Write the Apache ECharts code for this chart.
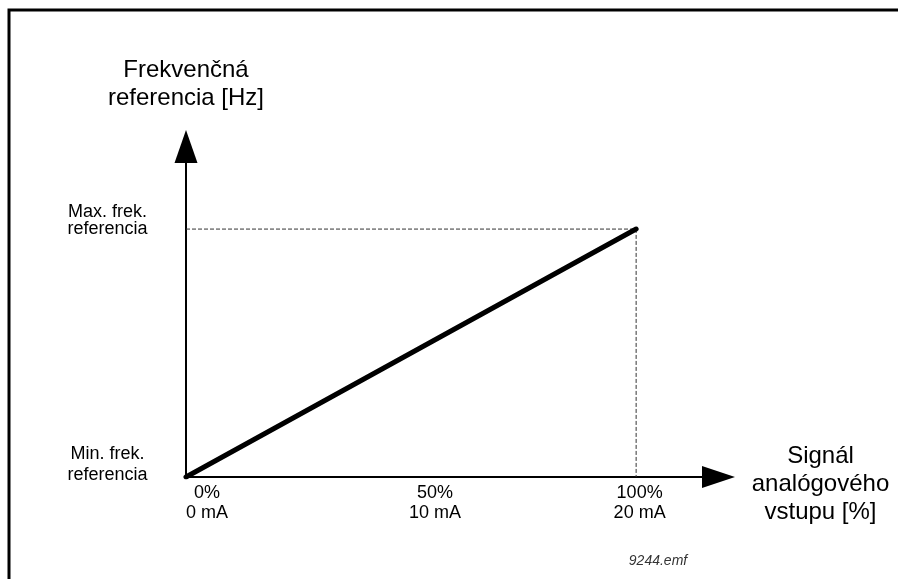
<!DOCTYPE html>
<html>
<head>
<meta charset="utf-8">
<script src="https://cdn.jsdelivr.net/npm/echarts@6/dist/echarts.min.js"></script>
<style>
  html, body { margin: 0; padding: 0; background: #fff; }
  #chart { width: 898px; height: 579px; }
</style>
</head>
<body>
<div id="chart"></div>
<script>
// Analog input signal (%) against frequency reference (% of range)
const signalPct = [0, 100];
const freqRefPct = [0, 100];

// Tick positions and their labels
const xTickValues = [0, 50, 100];
const xTickLabels = ['0%\n0 mA', '50%\n10 mA', '100%\n20 mA'];
const yTickValues = [0, 100];
const yTickLabels = ['Min. frek.\nreferencia', 'Max. frek.\nreferencia'];

// Axis titles
const xAxisTitle = 'Signál\nanalógového\nvstupu [%]';
const yAxisTitle = 'Frekvenčná\nreferencia [Hz]';

// Axis extents leave room for the arrow heads beyond the 100 % point
const X_MAX = 118.3;
const Y_MAX = 133.3;

const FONT = '"Liberation Sans", Arial, sans-serif';

// Horizontal nudge for each x tick label (px, half of left padding)
const xLabelShift = [21, 24, 3.5];
// Line heights for the two y tick labels and the spacer line under them
const yLabelLine = [21, 17];
const yLabelSpacer = [24, 17];

const xRich = {};
xLabelShift.forEach((s, i) => {
  xRich['x' + i] = { fontSize: 18, lineHeight: 20, color: '#000', fontFamily: FONT, padding: [0, 0, 0, s * 2] };
});
const yRich = {};
yLabelLine.forEach((lh, i) => {
  yRich['y' + i] = { fontSize: 18, lineHeight: lh, color: '#000', fontFamily: FONT, align: 'center' };
  yRich['g' + i] = { fontSize: 4, lineHeight: yLabelSpacer[i] };
});

// x-axis title: a small spacer line on top lowers the centred block
const xNameRich = '{sp| }\n' + xAxisTitle.split('\n').map(t => '{n|' + t + '}').join('\n');

const guide = [
  [signalPct[0], freqRefPct[1]],
  [signalPct[1], freqRefPct[1]],
  [signalPct[1], freqRefPct[0]]
];

const chart = echarts.init(document.getElementById('chart'), null, { renderer: 'canvas' });
chart.setOption({
  backgroundColor: '#fff',
  animation: false,
  grid: { left: 186, right: 179.5, top: 146.5, bottom: 102, containLabel: false, outerBoundsMode: 'none' },
  xAxis: {
    type: 'value',
    min: 0,
    max: X_MAX,
    name: xNameRich,
    nameLocation: 'end',
    nameGap: 102,
    nameMoveOverlap: false,
    nameTextStyle: {
      fontSize: 24, lineHeight: 28, color: '#000', fontFamily: FONT,
      align: 'center', verticalAlign: 'middle',
      rich: {
        n: { fontSize: 24, lineHeight: 28, color: '#000', fontFamily: FONT, align: 'center' },
        sp: { fontSize: 4, lineHeight: 14 }
      }
    },
    axisLine: {
      show: true,
      symbol: ['none', 'triangle'],
      symbolSize: [22, 33],
      lineStyle: { color: '#000', width: 2 }
    },
    axisTick: { show: false },
    splitLine: { show: false },
    axisLabel: {
      show: true,
      customValues: xTickValues,
      margin: 6,
      formatter: function (v) {
        const i = xTickValues.indexOf(v);
        if (i < 0) return '';
        return xTickLabels[i].split('\n').map(t => '{x' + i + '|' + t + '}').join('\n');
      },
      rich: xRich
    }
  },
  yAxis: {
    type: 'value',
    min: 0,
    max: Y_MAX,
    name: yAxisTitle,
    nameLocation: 'end',
    nameGap: 34,
    nameMoveOverlap: false,
    nameTextStyle: {
      fontSize: 24, lineHeight: 28, color: '#000', fontFamily: FONT,
      align: 'center', verticalAlign: 'bottom'
    },
    axisLine: {
      show: true,
      symbol: ['none', 'triangle'],
      symbolSize: [23, 33],
      lineStyle: { color: '#000', width: 2 }
    },
    axisTick: { show: false },
    splitLine: { show: false },
    axisLabel: {
      show: true,
      customValues: yTickValues,
      margin: 78.5,
      align: 'center',
      verticalAlign: 'middle',
      formatter: function (v) {
        const i = yTickValues.indexOf(v);
        if (i < 0) return '';
        return yTickLabels[i].split('\n').map(t => '{y' + i + '|' + t + '}').join('\n') + '\n{g' + i + '| }';
      },
      rich: yRich
    }
  },
  series: [
    {
      name: 'guide',
      type: 'line',
      data: guide,
      symbol: 'none',
      silent: true,
      z: 1,
      lineStyle: { color: '#333', width: 1, type: [4, 2] }
    },
    {
      name: 'reference',
      type: 'line',
      data: signalPct.map((x, i) => [x, freqRefPct[i]]),
      symbol: 'none',
      z: 3,
      lineStyle: { color: '#000', width: 5, cap: 'round' }
    }
  ],
  graphic: [
    {
      type: 'rect',
      silent: true,
      shape: { x: 9, y: 10, width: 1000, height: 1000 },
      style: { fill: 'none', stroke: '#000', lineWidth: 3 }
    },
    {
      type: 'text',
      x: 658,
      y: 561,
      style: {
        text: '9244.emf',
        fontSize: 14,
        fontStyle: 'italic',
        fontFamily: FONT,
        fill: '#333',
        align: 'center',
        verticalAlign: 'middle'
      }
    }
  ]
});
</script>
</body>
</html>
